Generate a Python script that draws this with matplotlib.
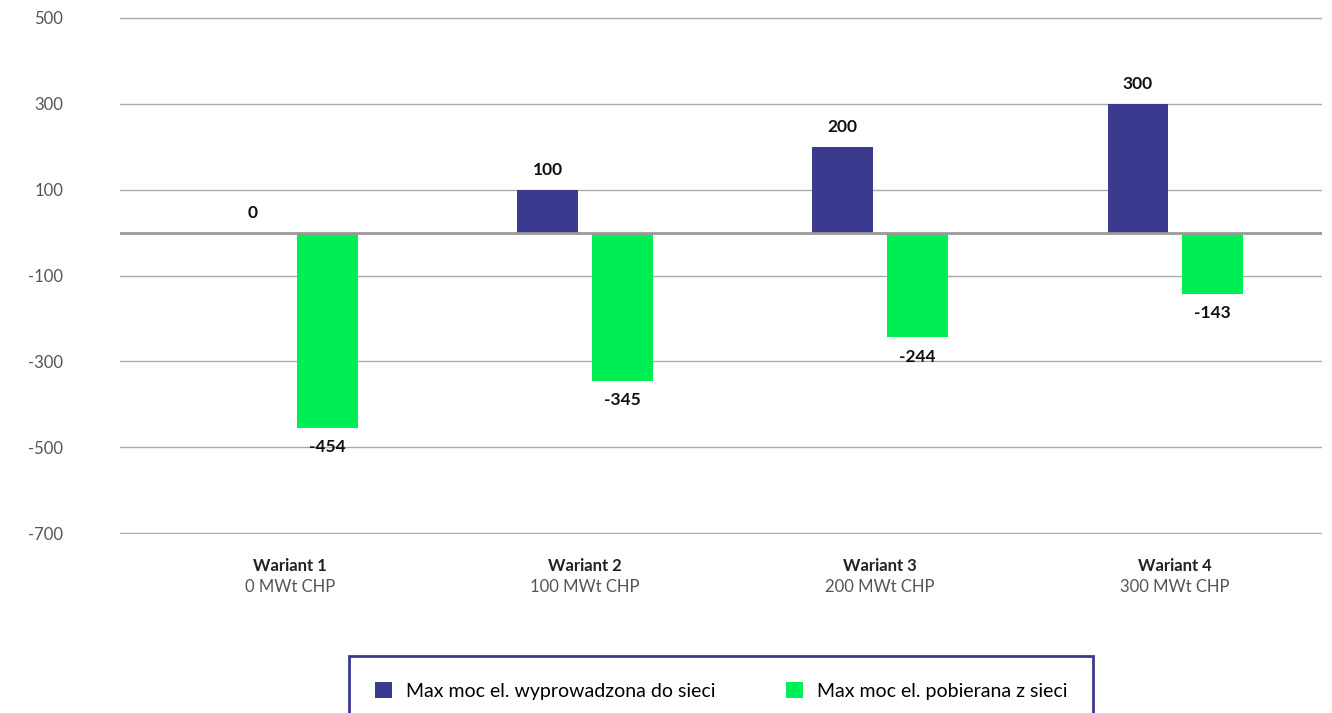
import numpy as np
import matplotlib.pyplot as plt
from matplotlib.transforms import blended_transform_factory

warianty = ["Wariant 1", "Wariant 2", "Wariant 3", "Wariant 4"]
podpisy = ["0 MWt CHP", "100 MWt CHP", "200 MWt CHP", "300 MWt CHP"]
wyprowadzona = [0, 100, 200, 300]
pobierana = [-454, -345, -244, -143]
y_ticks = [500, 300, 100, -100, -300, -500, -700]

BLUE = "#3A3A8F"
GREEN = "#00EE55"

plt.rcParams['font.family'] = ['Lato', 'DejaVu Sans']
plt.rcParams['axes.unicode_minus'] = False

fig = plt.figure(figsize=(13.32, 7.13), dpi=100)
ax = fig.add_axes([120/1332, 1-534/713, 1202/1332, 517/713])

x = np.arange(len(warianty))
w = 0.206
off = 0.126
ax.bar(x - off, wyprowadzona, w, color=BLUE, label="Max moc el. wyprowadzona do sieci", zorder=3)
ax.bar(x + off, pobierana, w, color=GREEN, label="Max moc el. pobierana z sieci", zorder=3)

for i in range(len(x)):
    ax.text(x[i] - off, wyprowadzona[i] + 46, str(wyprowadzona[i]), ha='center', va='center',
            fontsize=12.5, fontweight='bold', color='#111111')
    ax.text(x[i] + off, pobierana[i] - 45, str(pobierana[i]), ha='center', va='center',
            fontsize=12.5, fontweight='bold', color='#111111')

ax.set_xlim(-0.576, 3.498)
ax.set_ylim(-702, 502)
ax.set_yticks(y_ticks)
ax.yaxis.grid(True, color='#aaaaaa', linewidth=1, zorder=0)
ax.axhline(0, color='#999999', linewidth=2, zorder=4)
ax.tick_params(axis='y', length=0, pad=41, labelsize=12, labelcolor='#555555')
ax.set_xticks([])
for s in ax.spines.values():
    s.set_visible(False)

tr = blended_transform_factory(ax.transData, fig.transFigure)
for i in range(len(x)):
    ax.text(x[i], 1-566/713, warianty[i], transform=tr, ha='center', va='center',
            fontsize=12, fontweight='bold', color='#222222')
    ax.text(x[i], 1-587/713, podpisy[i], transform=tr, ha='center', va='center',
            fontsize=12, color='#555555')

# legenda wystaje poza dolną krawędź, jak w oryginale
leg = fig.legend(loc='upper center', bbox_to_anchor=(721/1332, 1-646/713), ncol=2,
                 fontsize=14, frameon=True, fancybox=False, edgecolor=BLUE, framealpha=1,
                 handlelength=0.9, handleheight=0.9, borderpad=1.35, columnspacing=3.6,
                 handletextpad=0.7)
leg.get_frame().set_linewidth(2)

fig.savefig("out.png", dpi=100)
